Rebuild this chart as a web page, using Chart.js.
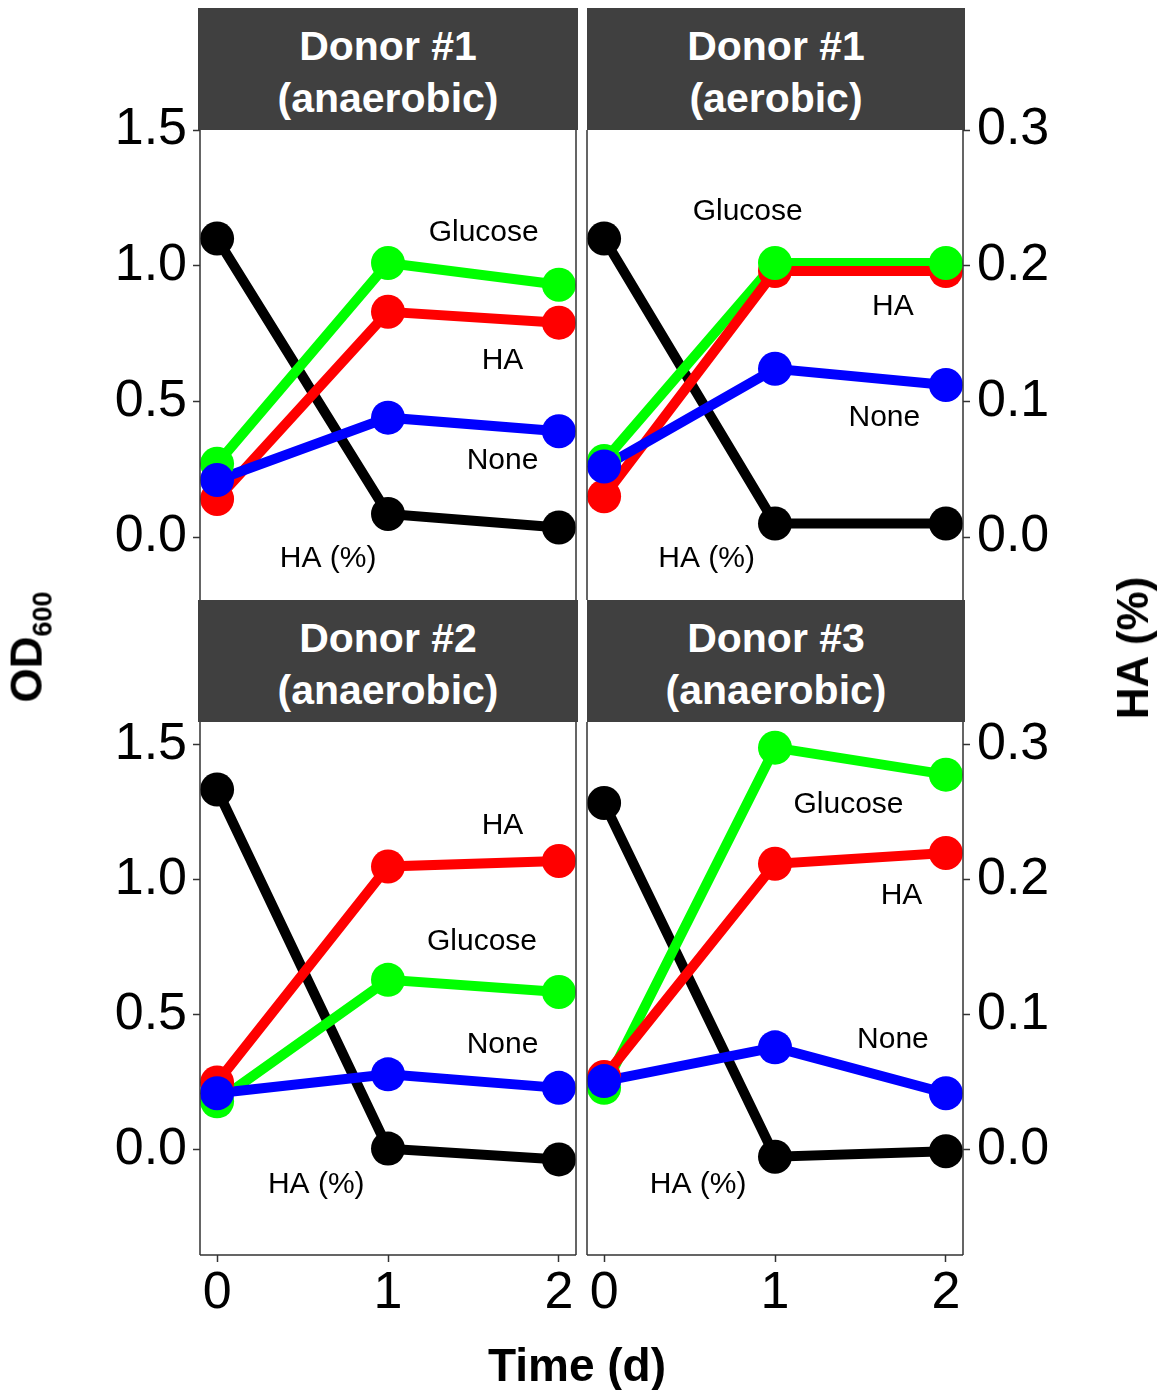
<!DOCTYPE html>
<html>
<head>
<meta charset="utf-8">
<script src="https://cdn.jsdelivr.net/npm/chart.js@4.4.1/dist/chart.umd.min.js"></script>
<style>
  body { margin: 0; background: #fff; width: 1167px; height: 1390px; position: relative; overflow: hidden;
         font-family: "Liberation Sans", Arial, sans-serif; }
  canvas { position: absolute; }
  .strip { position: absolute; background: #404040; color: #fff; font-weight: bold; font-size: 41px;
           text-align: center; line-height: 52px; padding-top: 12px; box-sizing: border-box; height: 122px; }
  .title { position: absolute; font-weight: bold; color: #000; white-space: nowrap; transform: translate(-50%, -50%); }
  .rot { transform: translate(-50%, -50%) rotate(-90deg); }
</style>
</head>
<body>
<div class="strip" style="left:198px;top:8px;width:380px"><div id="t0a"></div><div id="t0b"></div></div>
<div class="strip" style="left:587px;top:8px;width:378px"><div id="t1a"></div><div id="t1b"></div></div>
<div class="strip" style="left:198px;top:600px;width:380px"><div id="t2a"></div><div id="t2b"></div></div>
<div class="strip" style="left:587px;top:600px;width:378px"><div id="t3a"></div><div id="t3b"></div></div>

<canvas id="p0" width="582" height="510" style="left:0;top:90px"></canvas>
<canvas id="p1" width="585" height="510" style="left:582px;top:90px"></canvas>
<canvas id="p2" width="582" height="618" style="left:0;top:722px"></canvas>
<canvas id="p3" width="585" height="618" style="left:582px;top:722px"></canvas>

<div class="title rot" style="left:30px;top:647px;font-size:44px">OD<sub style="font-size:27px">600</sub></div>
<div class="title rot" style="left:1133px;top:648px;font-size:44px">HA (%)</div>
<div class="title" style="left:577px;top:1365px;font-size:46px">Time (d)</div>

<script>
// time points (days)
const days = [0, 1, 2];
const panelTitles = [
  ["Donor #1", "(anaerobic)"],
  ["Donor #1", "(aerobic)"],
  ["Donor #2", "(anaerobic)"],
  ["Donor #3", "(anaerobic)"]
];
// OD600 per panel
const glucoseOD = [[0.27, 1.01, 0.93], [0.28, 1.01, 1.01], [0.18, 0.63, 0.585], [0.23, 1.49, 1.39]];
const haOD      = [[0.14, 0.83, 0.79], [0.15, 0.98, 0.98], [0.25, 1.05, 1.07], [0.27, 1.06, 1.10]];
const noneOD    = [[0.21, 0.44, 0.39], [0.26, 0.62, 0.56], [0.21, 0.28, 0.23], [0.255, 0.38, 0.21]];
// HA (%) remaining, right axis
const haPercent = [[0.220, 0.017, 0.007], [0.220, 0.010, 0.010], [0.267, 0.001, -0.007], [0.257, -0.005, -0.001]];

const odTicks = [0, 0.5, 1, 1.5];
const haTicks = [0, 0.1, 0.2, 0.3];
const dayTicks = [0, 1, 2];

// in-plot text labels (x in days, y in OD units)
const noteText = ["Glucose", "HA", "None", "HA (%)"];
const noteX = [[1.56, 1.67, 1.67, 0.65], [0.84, 1.69, 1.64, 0.60], [1.55, 1.67, 1.67, 0.58], [1.43, 1.74, 1.69, 0.55]];
const noteY = [[1.12, 0.65, 0.28, -0.08], [1.20, 0.85, 0.44, -0.08], [0.77, 1.20, 0.39, -0.13], [1.28, 0.94, 0.41, -0.13]];

const family = '"Liberation Sans", Arial, sans-serif';

panelTitles.forEach((t, i) => {
  document.getElementById("t" + i + "a").textContent = t[0];
  document.getElementById("t" + i + "b").textContent = t[1];
});

const framePlugin = {
  id: "frame",
  afterDatasetsDraw(chart, args, opts) {
    const ctx = chart.ctx, a = chart.chartArea;
    ctx.save();
    ctx.strokeStyle = "#333";
    ctx.lineWidth = 1.5;
    ctx.beginPath();
    ctx.moveTo(a.left, a.top); ctx.lineTo(a.left, a.bottom);
    ctx.moveTo(a.right, a.top); ctx.lineTo(a.right, a.bottom);
    if (opts.bottom) { ctx.moveTo(a.left, a.bottom); ctx.lineTo(a.right, a.bottom); }
    ctx.stroke();
    ctx.restore();
  }
};

const notesPlugin = {
  id: "notes",
  afterDatasetsDraw(chart, args, opts) {
    const ctx = chart.ctx, xs = chart.scales.x, ys = chart.scales.y;
    ctx.save();
    ctx.font = "30px " + family;
    ctx.fillStyle = "#000";
    ctx.textAlign = "center";
    ctx.textBaseline = "middle";
    opts.text.forEach((s, k) => {
      ctx.fillText(s, xs.getPixelForValue(opts.x[k]), ys.getPixelForValue(opts.y[k]));
    });
    ctx.restore();
  }
};

function pts(vals) {
  return days.map((d, i) => ({ x: d, y: vals[i] }));
}

function lineSet(vals, color, order, axis) {
  return { data: pts(vals), borderColor: color, backgroundColor: color, borderWidth: 10,
           pointRadius: 0, order: order, yAxisID: axis, clip: false };
}
function pointSet(vals, color, order, axis) {
  return { data: pts(vals), showLine: false, backgroundColor: color, borderColor: color, borderWidth: 0,
           pointRadius: 17, order: order, yAxisID: axis, clip: false };
}

function axisStyle() {
  return {
    grid: { display: true, drawOnChartArea: false, drawTicks: true, tickLength: 7, tickWidth: 1.5, color: "#333" },
    border: { display: false },
    ticks: { padding: 6, color: "#000", font: { size: 52, family: family } }
  };
}

// pin the plot area: fixed axis size, no label overflow padding
function fixSize(s, size) {
  if (s.isHorizontal()) s.height = size; else s.width = size;
  s.paddingTop = 0; s.paddingBottom = 0; s.paddingLeft = 0; s.paddingRight = 0;
}

function makePanel(i, opt) {
  const yMin = opt.yMin, yMax = opt.yMax;
  const yLeft = Object.assign(axisStyle(), {
    type: "linear", position: "left", min: yMin, max: yMax, display: opt.left,
    afterBuildTicks: s => { s.ticks = odTicks.map(v => ({ value: v })); },
    afterFit: s => fixSize(s, opt.left ? 200 : 0)
  });
  yLeft.ticks.callback = v => v.toFixed(1);
  const yRight = Object.assign(axisStyle(), {
    type: "linear", position: "right", min: yMin / 5, max: yMax / 5, display: opt.right,
    afterBuildTicks: s => { s.ticks = haTicks.map(v => ({ value: v })); },
    afterFit: s => fixSize(s, opt.right ? 204 : 0)
  });
  yRight.ticks.callback = v => v.toFixed(1);
  yRight.ticks.padding = 7;
  const xAxis = Object.assign(axisStyle(), {
    type: "linear", position: "bottom", min: -0.1, max: 2.1, display: opt.bottom,
    afterBuildTicks: s => { s.ticks = dayTicks.map(v => ({ value: v })); },
    afterFit: s => fixSize(s, opt.bottom ? 85 : 0)
  });
  xAxis.ticks.callback = v => String(v);
  xAxis.ticks.padding = 0;

  new Chart(document.getElementById("p" + i).getContext("2d"), {
    type: "line",
    data: {
      datasets: [
        pointSet(noneOD[i], "#0000ff", 0, "y"),
        pointSet(glucoseOD[i], "#00ff00", 1, "y"),
        pointSet(haOD[i], "#ff0000", 2, "y"),
        pointSet(haPercent[i], "#000000", 3, "y2"),
        lineSet(noneOD[i], "#0000ff", 4, "y"),
        lineSet(haOD[i], "#ff0000", 5, "y"),
        lineSet(glucoseOD[i], "#00ff00", 6, "y"),
        lineSet(haPercent[i], "#000000", 7, "y2")
      ]
    },
    options: {
      responsive: false,
      animation: false,
      events: [],
      layout: { autoPadding: false, padding: opt.padding },
      scales: { x: xAxis, y: yLeft, y2: yRight },
      plugins: {
        legend: { display: false },
        tooltip: { enabled: false },
        frame: { bottom: opt.bottom },
        notes: { text: noteText, x: noteX[i], y: noteY[i] }
      }
    },
    plugins: [framePlugin, notesPlugin]
  });
}

makePanel(0, { yMin: -0.232, yMax: 1.5, left: true, right: false, bottom: false, padding: { left: 0, right: 6, top: 40, bottom: 0 } });
makePanel(1, { yMin: -0.232, yMax: 1.5, left: false, right: true, bottom: false, padding: { left: 5, right: 0, top: 40, bottom: 0 } });
makePanel(2, { yMin: -0.389, yMax: 1.585, left: true, right: false, bottom: true, padding: { left: 0, right: 6, top: 0, bottom: 0 } });
makePanel(3, { yMin: -0.389, yMax: 1.585, left: false, right: true, bottom: true, padding: { left: 5, right: 0, top: 0, bottom: 0 } });
</script>
</body>
</html>
